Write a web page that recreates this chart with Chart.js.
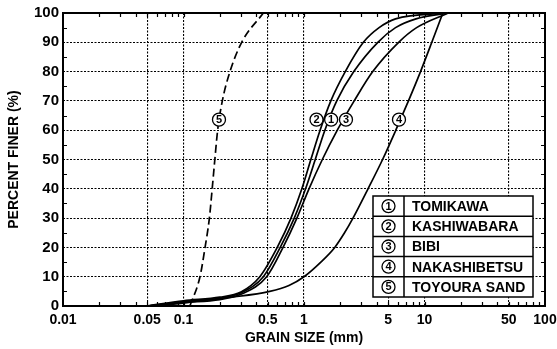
<!DOCTYPE html>
<html>
<head>
<meta charset="utf-8">
<script src="https://cdn.jsdelivr.net/npm/chart.js@4.4.1/dist/chart.umd.min.js"></script>
<style>
  html, body { margin: 0; padding: 0; background: #fff; }
</style>
</head>
<body>
<canvas id="grading" width="557" height="349"></canvas>
<script>
// sample names (legend order)
const soilNames = ['TOMIKAWA', 'KASHIWABARA', 'BIBI', 'NAKASHIBETSU', 'TOYOURA SAND'];

// grain size (mm) / percent finer (%)
const tomikawaSize = [0.05, 0.1, 0.2, 0.3, 0.46, 0.635, 0.83, 1.03, 1.24, 1.49, 1.87, 2.59, 4.1, 5.75, 8.5, 15.7];
const tomikawaPct  = [0, 1.5, 2.6, 4.5, 10, 20, 30, 40, 50, 60, 70, 80, 90, 95, 98, 100];

const kashiwabaraSize = [0.05, 0.1, 0.2, 0.3, 0.43, 0.6, 0.78, 0.96, 1.14, 1.36, 1.67, 2.2, 3.11, 4.2, 5.75, 15.7];
const kashiwabaraPct  = [0, 1.8, 3, 4.8, 10, 20, 30, 40, 50, 60, 70, 80, 90, 95, 98, 100];

const bibiSize = [0.05, 0.1, 0.2, 0.3, 0.49, 0.67, 0.873, 1.1, 1.42, 1.89, 2.61, 3.72, 6.1, 8.6, 15.7];
const bibiPct  = [0, 1.2, 2.2, 4, 10, 20, 30, 40, 50, 60, 70, 80, 90, 95, 100];

const nakashibetsuSize = [0.05, 0.1, 0.15, 0.25, 0.52, 0.75, 1.0, 1.38, 1.8, 2.17, 2.55, 3.4, 4.49, 5.78, 7.36, 9.27, 11.5, 14.2];
const nakashibetsuPct  = [0, 1, 2, 3, 5, 7, 10, 15, 20, 25, 30, 40, 50, 60, 70, 80, 90, 100];

const toyouraSize = [0.113, 0.137, 0.151, 0.164, 0.173, 0.182, 0.192, 0.21, 0.243, 0.304, 0.46];
const toyouraPct  = [0, 10, 20, 30, 40, 50, 60, 70, 80, 90, 100];

// axis ticks
const sizeLabels = [0.01, 0.05, 0.1, 0.5, 1, 5, 10, 50, 100];
const sizeGrid = [0.05, 0.1, 0.5, 1, 5, 10, 50];

// circled markers on the curves: [number, grain size, percent]
const curveMarks = [[1, 1.68, 63.6], [2, 1.27, 63.6], [3, 2.23, 63.6], [4, 6.14, 63.6], [5, 0.197, 63.6]];

const FONT = 'Liberation Sans, Arial, Helvetica, sans-serif';
const pts = (xs, ys) => xs.map((x, i) => ({ x: x, y: ys[i] }));
const near = (a, b) => Math.abs(a - b) < 1e-9 * Math.max(1, b);

const allSizeTicks = [];
for (let e = -2; e <= 1; e++) {
  for (let m = 1; m <= 9; m++) allSizeTicks.push(+(m * Math.pow(10, e)).toPrecision(3));
}
allSizeTicks.push(100);

function line(data, dashed) {
  return {
    data: data,
    borderColor: '#000',
    borderWidth: 1.7,
    borderDash: dashed ? [8, 4] : [],
    pointRadius: 0,
    fill: false,
    cubicInterpolationMode: 'monotone'
  };
}

function circled(ctx, n, x, y, r) {
  ctx.beginPath();
  ctx.arc(x, y, r, 0, Math.PI * 2);
  ctx.fillStyle = '#fff';
  ctx.fill();
  ctx.lineWidth = 1.3;
  ctx.strokeStyle = '#000';
  ctx.stroke();
  ctx.fillStyle = '#000';
  ctx.font = 'bold 11px ' + FONT;
  ctx.textAlign = 'center';
  ctx.textBaseline = 'middle';
  ctx.fillText(String(n), x, y + 0.5);
}

const decorations = {
  id: 'decorations',
  afterDraw(chart) {
    const ctx = chart.ctx;
    const a = chart.chartArea;
    const xs = chart.scales.x, ys = chart.scales.y;
    ctx.save();

    // inward minor ticks
    ctx.strokeStyle = '#000';
    ctx.lineWidth = 1.2;
    ctx.beginPath();
    allSizeTicks.forEach(v => {
      if (v <= 0.01 || v >= 100) return;
      const px = Math.round(xs.getPixelForValue(v)) + 0.5;
      ctx.moveTo(px, a.bottom); ctx.lineTo(px, a.bottom - 4);
      ctx.moveTo(px, a.top); ctx.lineTo(px, a.top + 4);
    });
    for (let p = 5; p < 100; p += 10) {
      const py = Math.round(ys.getPixelForValue(p)) + 0.5;
      ctx.moveTo(a.left, py); ctx.lineTo(a.left + 4, py);
      ctx.moveTo(a.right, py); ctx.lineTo(a.right - 4, py);
    }
    ctx.stroke();

    // frame
    ctx.lineWidth = 2;
    ctx.strokeRect(a.left, a.top, a.right - a.left, a.bottom - a.top);

    // circled numbers on the curves
    curveMarks.forEach(m => {
      circled(ctx, m[0], xs.getPixelForValue(m[1]), ys.getPixelForValue(m[2]), 6.5);
    });

    // legend table
    const lx = a.right - 172, ly = a.bottom - 110, lw = 160, rh = 20.2, lh = rh * soilNames.length;
    const div = lx + 31;
    ctx.fillStyle = '#fff';
    ctx.fillRect(lx, ly, lw, lh);
    ctx.lineWidth = 1.5;
    ctx.strokeStyle = '#000';
    ctx.strokeRect(lx, ly, lw, lh);
    ctx.beginPath();
    ctx.moveTo(div, ly); ctx.lineTo(div, ly + lh);
    for (let i = 1; i < soilNames.length; i++) {
      ctx.moveTo(lx, ly + i * rh); ctx.lineTo(lx + lw, ly + i * rh);
    }
    ctx.stroke();
    soilNames.forEach((name, i) => {
      const cy = ly + (i + 0.5) * rh;
      circled(ctx, i + 1, lx + 15.5, cy, 6.5);
      ctx.fillStyle = '#000';
      ctx.font = 'bold 14px ' + FONT;
      ctx.textAlign = 'left';
      ctx.textBaseline = 'middle';
      ctx.fillText(name, div + 8, cy + 1);
    });
    ctx.restore();
  }
};

new Chart(document.getElementById('grading'), {
  type: 'line',
  data: {
    datasets: [
      line(pts(tomikawaSize, tomikawaPct)),
      line(pts(kashiwabaraSize, kashiwabaraPct)),
      line(pts(bibiSize, bibiPct)),
      line(pts(nakashibetsuSize, nakashibetsuPct)),
      line(pts(toyouraSize, toyouraPct), true)
    ]
  },
  options: {
    responsive: false,
    animation: false,
    devicePixelRatio: 1,
    layout: { padding: { left: 0, right: 12, top: 13, bottom: 0 } },
    plugins: { legend: { display: false }, tooltip: { enabled: false } },
    scales: {
      x: {
        type: 'logarithmic',
        min: 0.01,
        max: 100,
        afterBuildTicks: s => { s.ticks = allSizeTicks.map(v => ({ value: v })); },
        afterFit: s => { s.height = 43; },
        ticks: {
          autoSkip: false,
          maxRotation: 0,
          padding: 0,
          color: '#000',
          font: { family: FONT, size: 14, weight: 'bold' },
          callback: v => sizeLabels.some(l => near(v, l)) ? String(v) : ''
        },
        grid: {
          drawTicks: true,
          tickLength: 6,
          tickColor: 'rgba(0,0,0,0)',
          lineWidth: 1.1,
          color: c => (c.tick && sizeGrid.some(g => near(c.tick.value, g))) ? '#000' : 'rgba(0,0,0,0)'
        },
        border: { display: false, dash: [2, 1.5] },
        title: {
          display: true,
          text: 'GRAIN SIZE (mm)',
          color: '#000',
          font: { family: FONT, size: 14, weight: 'bold' },
          padding: { top: 0, bottom: 2 }
        }
      },
      y: {
        min: 0,
        max: 100,
        afterFit: s => { s.width = 63; },
        ticks: {
          stepSize: 10,
          padding: 4,
          color: '#000',
          font: { family: FONT, size: 15, weight: 'bold' }
        },
        grid: {
          drawTicks: false,
          lineWidth: 1.1,
          color: c => (c.tick && c.tick.value > 0 && c.tick.value < 100) ? '#000' : 'rgba(0,0,0,0)'
        },
        border: { display: false, dash: [2, 1.5] },
        title: {
          display: true,
          text: 'PERCENT FINER (%)',
          color: '#000',
          font: { family: FONT, size: 14, weight: 'bold' },
          padding: { top: 6, bottom: 0 }
        }
      }
    }
  },
  plugins: [decorations]
});
</script>
</body>
</html>
